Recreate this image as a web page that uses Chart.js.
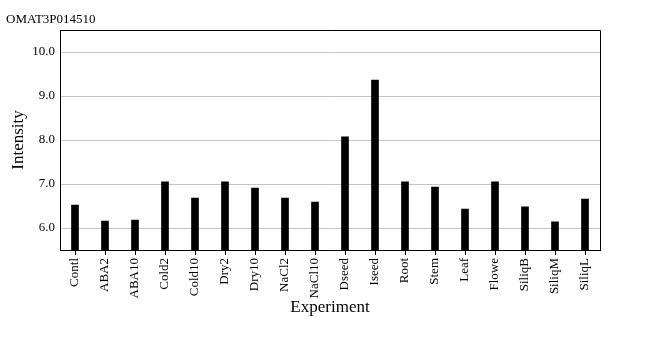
<!DOCTYPE html>
<html>
<head>
<meta charset="utf-8">
<script src="https://cdn.jsdelivr.net/npm/chart.js@4/dist/chart.umd.min.js"></script>
<style>
html,body{margin:0;padding:0;background:#fff;}
#wrap{width:660px;height:350px;}
</style>
</head>
<body>
<div id="wrap"><canvas id="c" width="660" height="350"></canvas></div>
<script>
const chartTitle = "OMAT3P014510";
const categories = ["Contl","ABA2","ABA10","Cold2","Cold10","Dry2","Dry10","NaCl2","NaCl10","Dseed","Iseed","Root","Stem","Leaf","Flowe","SiliqB","SiliqM","SiliqL"];
const intensity = [6.52,6.16,6.18,7.05,6.68,7.05,6.91,6.68,6.59,8.07,9.36,7.05,6.93,6.43,7.05,6.48,6.14,6.66];
const yTicks = [6,7,8,9,10];
const yMin = 5.5, yMax = 10.5;
const xTitle = "Experiment";
const yTitle = "Intensity";

const serif = "'Liberation Serif', 'DejaVu Serif', serif";

const boxPlugin = {
  id: 'boxAndTitle',
  afterDraw(chart) {
    const {ctx, chartArea: a} = chart;
    ctx.save();
    ctx.strokeStyle = '#000';
    ctx.lineWidth = 1;
    ctx.beginPath();
    ctx.moveTo(a.left, a.top + 0.5);
    ctx.lineTo(a.right + 0.5, a.top + 0.5);
    ctx.lineTo(a.right + 0.5, a.bottom);
    ctx.stroke();
    ctx.fillStyle = '#000';
    ctx.font = "13px " + serif;
    ctx.textBaseline = 'alphabetic';
    ctx.textAlign = 'left';
    ctx.fillText(chartTitle, 6, 23);
    ctx.restore();
  }
};

new Chart(document.getElementById('c'), {
  type: 'bar',
  data: {
    labels: categories,
    datasets: [{
      data: intensity,
      backgroundColor: '#000',
      borderWidth: 0,
      barThickness: 7
    }]
  },
  options: {
    responsive: false,
    animation: false,
    layout: { padding: { left: 0, right: 60, top: 30, bottom: 0 } },
    plugins: { legend: { display: false }, tooltip: { enabled: false }, title: { display: false } },
    scales: {
      x: {
        offset: true,
        grid: { offset: false, drawOnChartArea: false, drawTicks: true, tickLength: 5, tickColor: '#000', tickWidth: 1 },
        border: { display: true, color: '#000', width: 1 },
        ticks: { minRotation: 90, maxRotation: 90, autoSkip: false, padding: 3, color: '#000', font: { family: serif, size: 13 } },
        title: { display: true, text: xTitle, color: '#000', font: { family: serif, size: 17 }, padding: { top: 0, bottom: 32 } },
        afterFit(scale) { scale.height = 100; }
      },
      y: {
        min: yMin, max: yMax,
        afterBuildTicks(scale) { scale.ticks = yTicks.map(v => ({ value: v })); },
        grid: { color: '#c4c4c4', lineWidth: 1, drawTicks: false },
        border: { display: true, color: '#000', width: 1 },
        ticks: { padding: 5, color: '#000', font: { family: serif, size: 13 }, callback: v => Number(v).toFixed(1) },
        title: { display: true, text: yTitle, color: '#000', font: { family: serif, size: 17 }, padding: { top: 8, bottom: 0 } },
        afterFit(scale) { scale.width = 60; }
      }
    }
  },
  plugins: [boxPlugin]
});
</script>
</body>
</html>
